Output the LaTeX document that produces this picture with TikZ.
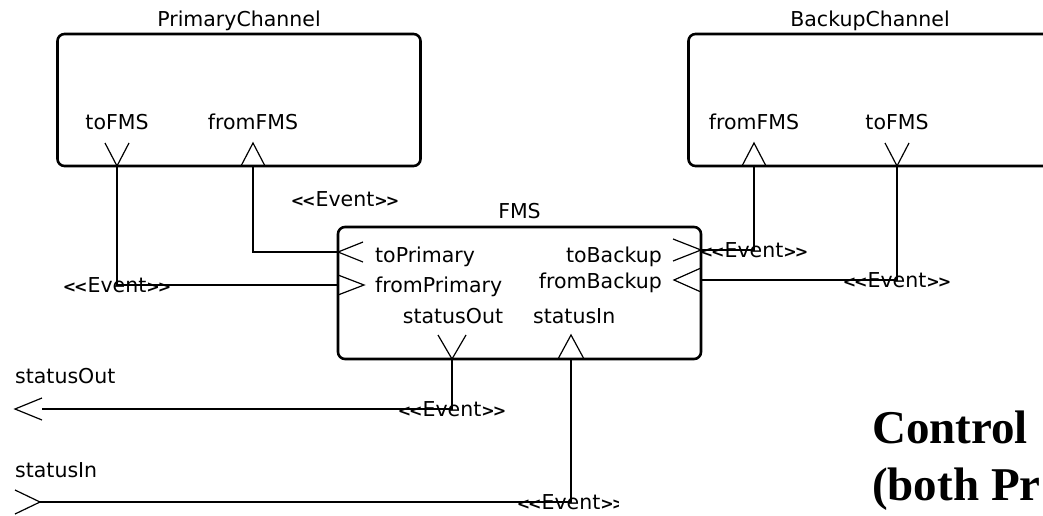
\documentclass[tikz,border=0pt]{standalone}
\usepackage{fontspec}
\setmainfont{DejaVu Sans}
\newfontfamily\titlefont{Liberation Serif}
\usetikzlibrary{positioning}
\newcommand{\evtstereo}{{\bfseries\fontsize{16}{16}\selectfont<\kern-2pt<}Event{\bfseries\fontsize{16}{16}\selectfont>\kern-2pt>}}

\begin{document}
\begin{tikzpicture}[x=1pt, y=-1pt,
		capsule/.style={rectangle, rounded corners=7pt, draw, line width=2.6pt, inner sep=0pt,
			minimum width=363pt, minimum height=132pt},
		txt/.style={inner sep=0pt, font=\fontsize{20.5}{24}\selectfont},
		evt/.style={txt},
		wire/.style={line width=1.6pt},
		port/.style={line width=1.2pt},
		bigtxt/.style={inner sep=0pt, font=\titlefont\bfseries\fontsize{47}{57}\selectfont}
		]
		\useasboundingbox (0,0) rectangle (1043,516);

		% capsules
		\node[capsule](primary) at (239,100){};
		\node[capsule](backup) at (870,100){};
		\node[capsule](fms) at (519.5,293){};
		\node[txt, above=1.5pt of primary](primaryname){PrimaryChannel};
		\node[txt, above=1.5pt of backup](backupname){BackupChannel};
		\node[txt, above=7pt of fms](fmsname){FMS};

		% ports
		\coordinate (pc-to) at (117,166);
		\coordinate (pc-from) at (253,166);
		\coordinate (bc-from) at (754,166);
		\coordinate (bc-to) at (897,166);
		\coordinate (fms-toP) at (338,252);
		\coordinate (fms-fromP) at (338,285);
		\coordinate (fms-toB) at (701,250);
		\coordinate (fms-fromB) at (701,280);
		\coordinate (fms-sout) at (452,359);
		\coordinate (fms-sin) at (571,359);
		\coordinate (env-sout) at (42,409);
		\coordinate (env-sin) at (40,502);

		\draw[port] (pc-to) ++(-12,-23) -- (pc-to) -- ++(12,-23);
		\draw[port] (pc-from) ++(-12,0) -- ++(12,-23) -- ++(12,23);
		\draw[port] (bc-from) ++(-12,0) -- ++(12,-23) -- ++(12,23);
		\draw[port] (bc-to) ++(-12,-23) -- (bc-to) -- ++(12,-23);
		\draw[port] (fms-toP) ++(25,-10) -- (fms-toP) -- ++(25,10);
		\draw[port] (fms-fromP) ++(0,-10) -- ++(26,10) -- ++(-26,10);
		\draw[port] (fms-toB) ++(-28,-11) -- (fms-toB) -- ++(-28,11);
		\draw[port] (fms-fromB) ++(0,-12) -- ++(-27,12) -- ++(27,12);
		\draw[port] (fms-sout) ++(-14,-24) -- (fms-sout) -- ++(14,-24);
		\draw[port] (fms-sin) ++(-13,0) -- ++(13,-24) -- ++(13,24);
		\draw[port] (env-sout) ++(0,-11) -- ++(-27,11) -- ++(27,11);
		\draw[port] (env-sin) ++(-25,-12) -- (env-sin) -- ++(-25,12);

		% port names
		\node[txt, above=36pt of pc-to](pc-toname){toFMS};
		\node[txt, above=36pt of pc-from](pc-fromname){fromFMS};
		\node[txt, above=36pt of bc-from](bc-fromname){fromFMS};
		\node[txt, above=36pt of bc-to](bc-toname){toFMS};
		\node[txt, anchor=base west](toPname) at (375,262){toPrimary};
		\node[txt, anchor=base west](fromPname) at (375,292){fromPrimary};
		\node[txt, anchor=base](soutname) at (453,323){statusOut};
		\node[txt, anchor=base east](toBname) at (662,262){toBackup};
		\node[txt, anchor=base east](fromBname) at (662,288){fromBackup};
		\node[txt, anchor=base west](sinname) at (533,323){statusIn};
		\node[txt, anchor=base west](env-soutname) at (15,383){statusOut};
		\node[txt, anchor=base west](env-sinname) at (15,477){statusIn};

		% connectors
		\draw[wire] (pc-to) |- node[evt](evt-a){\evtstereo} (fms-fromP);
		\draw[wire] (pc-from) |- (fms-toP);
		\node[evt](evt-b) at (345,199){\evtstereo};
		\draw[wire] (bc-from) |- node[evt](evt-c){\evtstereo} (fms-toB);
		\draw[wire] (bc-to) |- node[evt](evt-d){\evtstereo} (fms-fromB);
		\draw[wire] (fms-sout) |- node[evt](evt-e){\evtstereo} (env-sout);
		\draw[wire] (fms-sin) |- (env-sin);
		\begin{scope}
			\clip (0,0) rectangle (618,516);
			\node[evt](evt-f) at (571,502){\evtstereo};
		\end{scope}

		% title
		\node[bigtxt, anchor=base west](ctrl) at (872,443){Control};
		\node[bigtxt, anchor=base west](both) at ([yshift=-57pt]ctrl.base west){(both Pr};
	\end{tikzpicture}
\end{document}
